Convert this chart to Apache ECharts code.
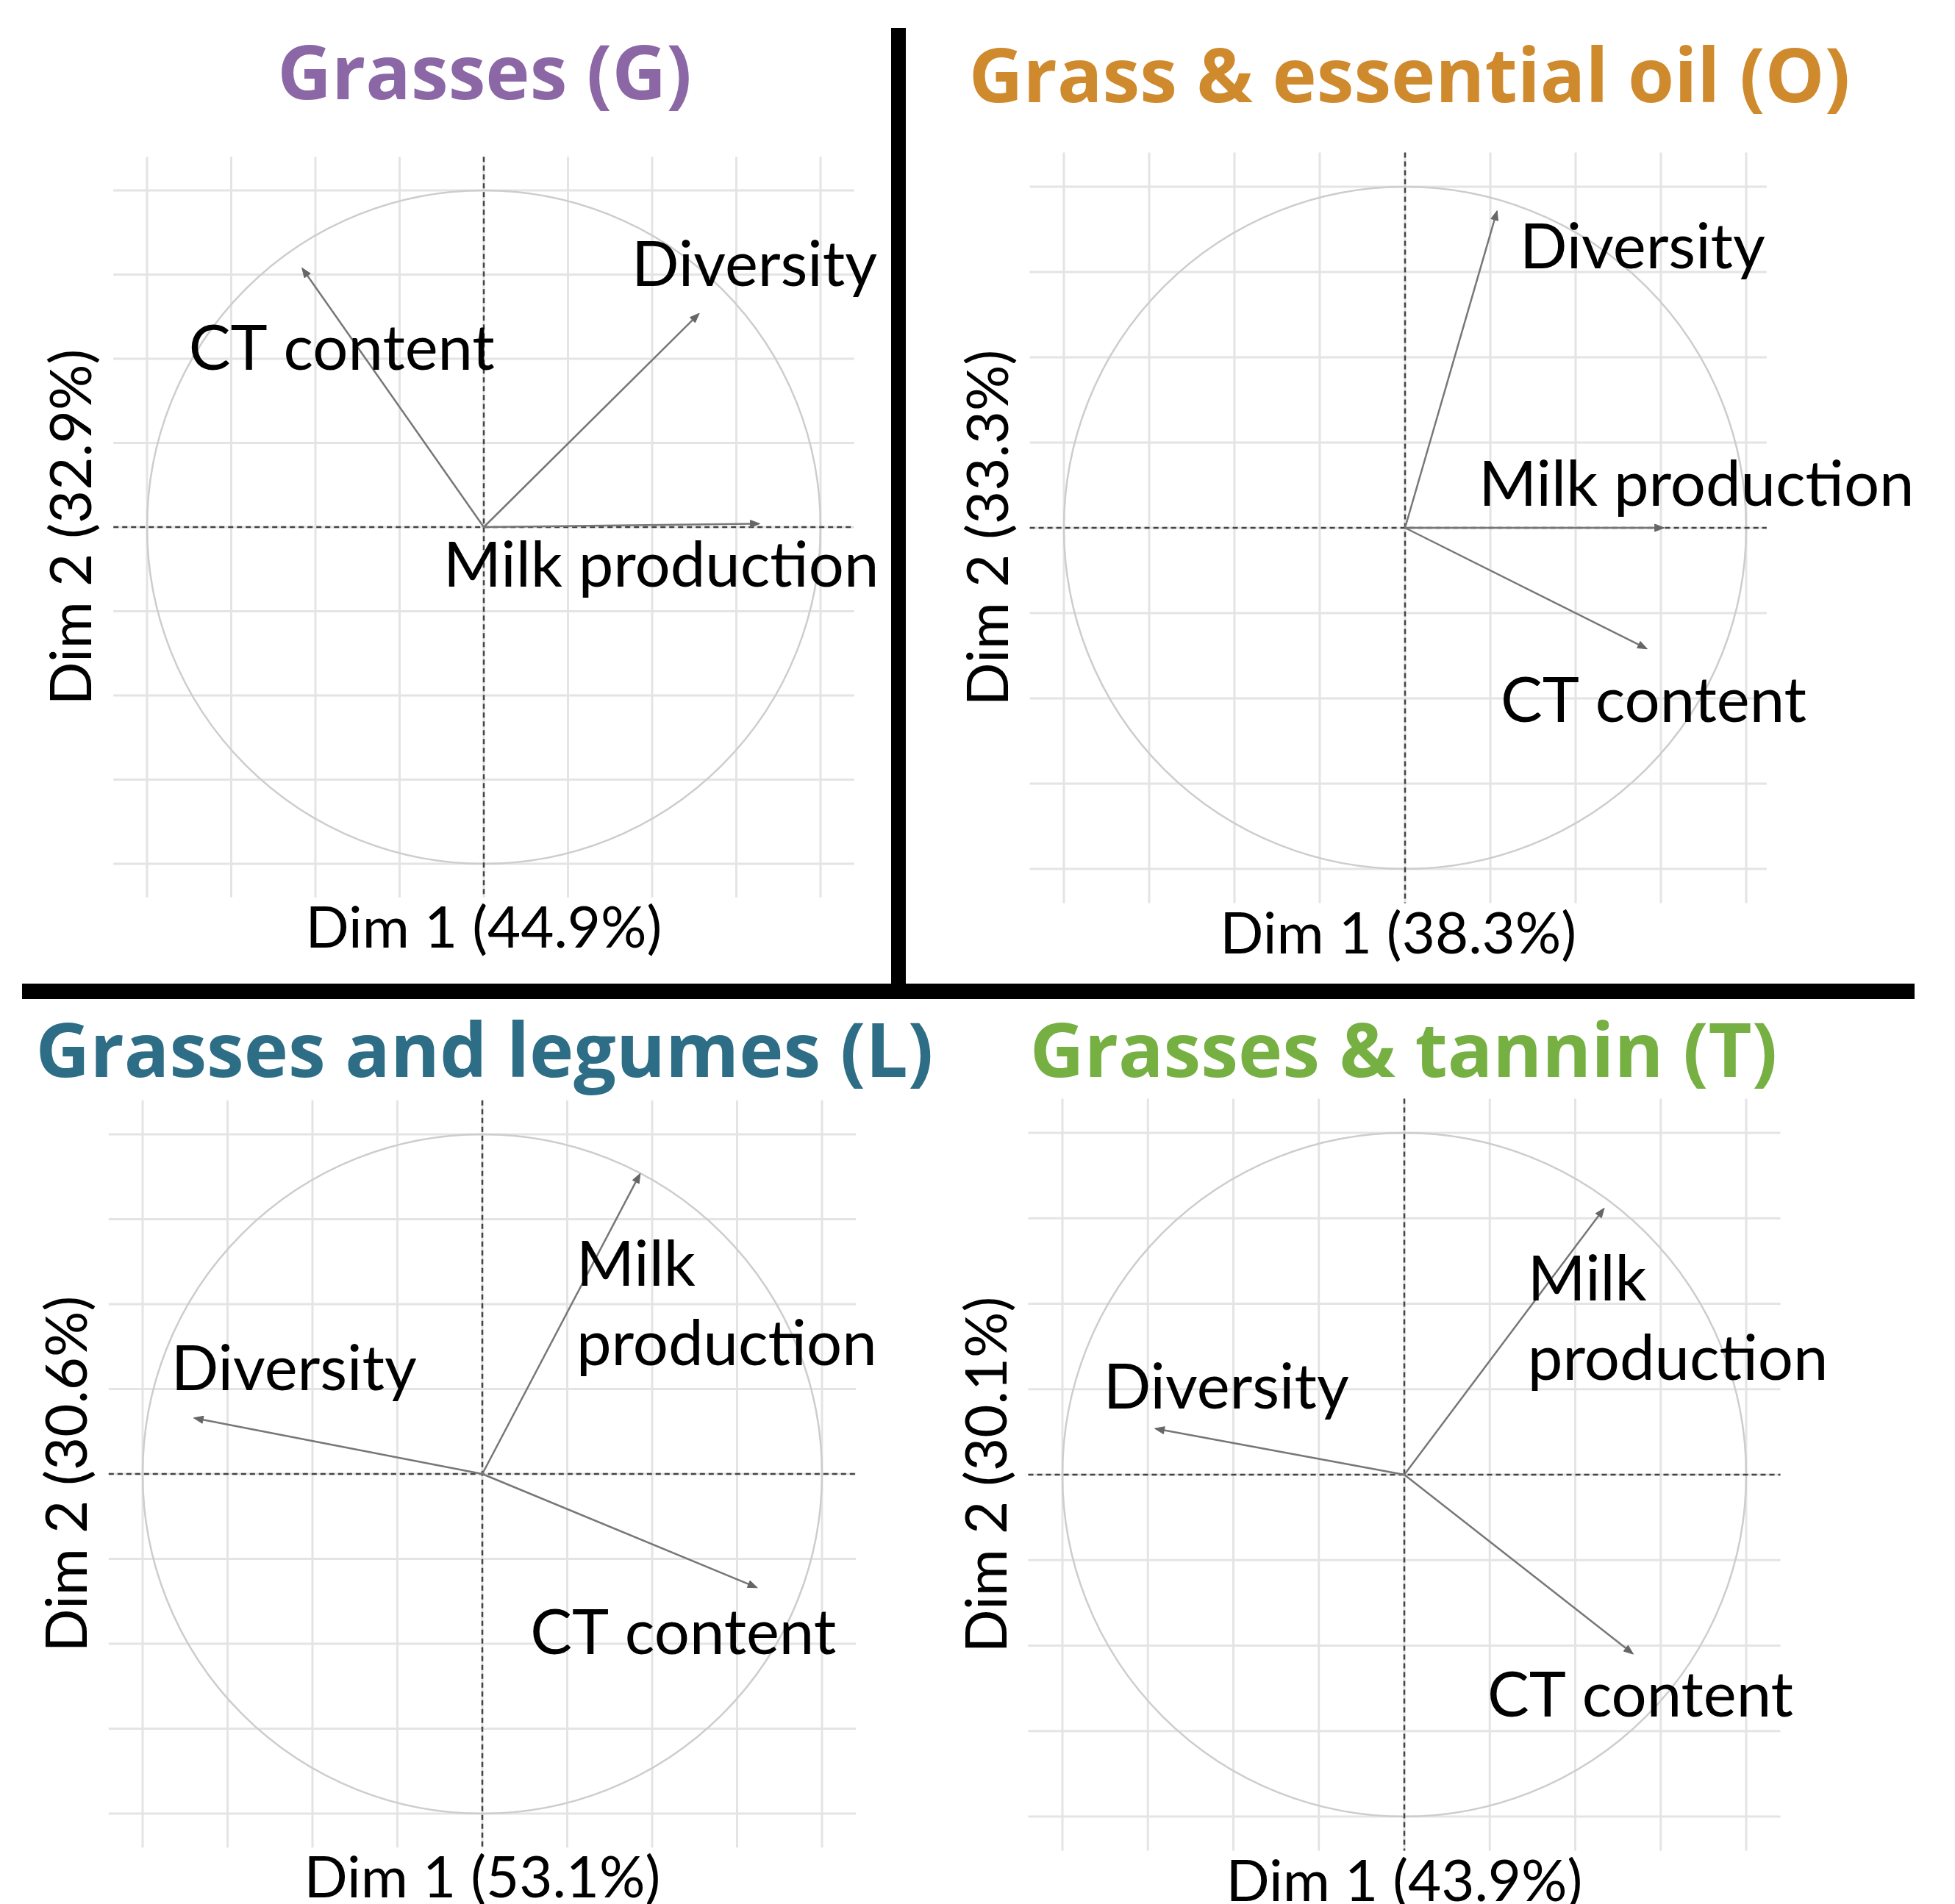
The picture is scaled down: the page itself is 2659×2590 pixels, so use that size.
<!DOCTYPE html>
<html lang="en">
<head>
<meta charset="UTF-8">
<title>PCA variable plots</title>
<script src="https://cdn.jsdelivr.net/npm/echarts@6/dist/echarts.min.js"></script>
<style>
    html, body { margin: 0; padding: 0; background: #fff; }
    #main { width: 2659px; height: 2590px; }
</style>
</head>
<body>
<div id="main"></div>
<script>
    // grid lines of the correlation circle
    var gridTicks = [-1, -0.75, -0.5, -0.25, 0, 0.25, 0.5, 0.75, 1];

    var panelTitles = ['Grasses (G)', 'Grass & essential oil (O)', 'Grasses and legumes (L)', 'Grasses & tannin (T)'];
    var dim1Names = ['Dim 1 (44.9%)', 'Dim 1 (38.3%)', 'Dim 1 (53.1%)', 'Dim 1 (43.9%)'];
    var dim2Names = ['Dim 2 (32.9%)', 'Dim 2 (33.3%)', 'Dim 2 (30.6%)', 'Dim 2 (30.1%)'];

    // variables: CT content, Diversity, Milk production
    var varNames = ['CT content', 'Diversity', 'Milk production'];
    var gDim1 = [-0.54, 0.64, 0.82];
    var gDim2 = [0.77, 0.635, 0.01];
    var oDim1 = [0.71, 0.27, 0.76];
    var oDim2 = [-0.355, 0.93, 0.0];
    var lDim1 = [0.81, -0.85, 0.465];
    var lDim2 = [-0.335, 0.165, 0.885];
    var tDim1 = [0.67, -0.73, 0.585];
    var tDim2 = [-0.525, 0.135, 0.78];

    var dim1 = [gDim1, oDim1, lDim1, tDim1];
    var dim2 = [gDim2, oDim2, lDim2, tDim2];

    // where the variable names sit (left edge, middle), in axis units
    var labelAt = [
        [[-0.876, 0.526], [0.439, 0.775], [-0.120, -0.118]],
        [[0.280, -0.509], [0.336, 0.819], [0.216, 0.123]],
        [[0.141, -0.472], [-0.916, 0.305], [0.277, 0.496]],
        [[0.243, -0.649], [-0.880, 0.252], [0.361, 0.452]]
    ];
    var splitMilk = [false, false, true, true];

    // layout of the four panels (pixels)
    var panels = [
        {cx: 658,  cy: 717,  r: 458, xMax: 1.1,  tx: 659,  ty: 55,   color: '#8C67A5'},
        {cx: 1911, cy: 718,  r: 464, xMax: 1.06, tx: 1917, ty: 59,   color: '#CF8A2E'},
        {cx: 656,  cy: 2005, r: 462, xMax: 1.1,  tx: 659,  ty: 1385, color: '#2E6D86'},
        {cx: 1910, cy: 2006, r: 465, xMax: 1.1,  tx: 1909, ty: 1385, color: '#76B043'}
    ];

    var textFont = 'Lato';

    function renderGridLine(params, api) {
        var cs = params.coordSys;
        var v = api.value(0);
        var px = api.coord([v, 0])[0];
        var py = api.coord([0, v])[1];
        var st = {stroke: '#e4e4e4', lineWidth: 3};
        return {
            type: 'group',
            children: [
                {type: 'line', shape: {x1: px, y1: cs.y, x2: px, y2: cs.y + cs.height}, style: st},
                {type: 'line', shape: {x1: cs.x, y1: py, x2: cs.x + cs.width, y2: py}, style: st}
            ]
        };
    }

    function renderCircle(params, api) {
        var c = api.coord([api.value(0), api.value(1)]);
        var r = api.size([1, 1])[0];
        return {
            type: 'circle',
            shape: {cx: c[0], cy: c[1], r: r},
            style: {fill: 'none', stroke: '#cdcdcd', lineWidth: 2.5}
        };
    }

    function renderZeroLines(params, api) {
        var cs = params.coordSys;
        var c = api.coord([0, 0]);
        var st = {stroke: '#444', lineWidth: 2.5, lineDash: [7, 5]};
        return {
            type: 'group',
            children: [
                {type: 'line', shape: {x1: c[0], y1: cs.y, x2: c[0], y2: cs.y + cs.height}, style: st},
                {type: 'line', shape: {x1: cs.x, y1: c[1], x2: cs.x + cs.width, y2: c[1]}, style: st}
            ]
        };
    }

    function makeArrowRenderer(p) {
        return function (params, api) {
            var k = api.value(2);
            var o = api.coord([0, 0]);
            var t = api.coord([api.value(0), api.value(1)]);
            var a = Math.atan2(t[1] - o[1], t[0] - o[0]);
            var len = 13, w = 5;
            var bx = t[0] - len * Math.cos(a), by = t[1] - len * Math.sin(a);
            var nx = -Math.sin(a) * w, ny = Math.cos(a) * w;
            var pos = api.coord(labelAt[p][k]);
            var txt = varNames[k];
            if (k === 2 && splitMilk[p]) txt = 'Milk\nproduction';
            return {
                type: 'group',
                children: [
                    {type: 'line', shape: {x1: o[0], y1: o[1], x2: bx, y2: by},
                        style: {stroke: '#777', lineWidth: 2.5}},
                    {type: 'polygon', shape: {points: [[t[0], t[1]], [bx + nx, by + ny], [bx - nx, by - ny]]},
                        style: {fill: '#666', stroke: '#666', lineWidth: 1}},
                    {type: 'text', x: pos[0], y: pos[1],
                        style: {text: txt, fill: '#000', fontFamily: textFont, fontSize: 85,
                            lineHeight: 108, align: 'left', verticalAlign: 'middle'}}
                ]
            };
        };
    }

    var grids = [], xAxes = [], yAxes = [], titles = [], series = [];
    panels.forEach(function (p, i) {
        grids.push({
            left: p.cx - 1.1 * p.r,
            top: p.cy - 1.1 * p.r,
            width: (1.1 + p.xMax) * p.r,
            height: 2.2 * p.r,
            containLabel: false,
            outerBoundsMode: 'none'
        });
        xAxes.push({
            gridIndex: i, type: 'value', min: -1.1, max: p.xMax,
            axisLine: {show: false}, axisTick: {show: false}, axisLabel: {show: false}, splitLine: {show: false},
            name: dim1Names[i], nameLocation: 'middle', nameGap: 4,
            nameTextStyle: {fontFamily: textFont, fontSize: 78, color: '#000'}
        });
        yAxes.push({
            gridIndex: i, type: 'value', min: -1.1, max: 1.1,
            axisLine: {show: false}, axisTick: {show: false}, axisLabel: {show: false}, splitLine: {show: false},
            name: dim2Names[i], nameLocation: 'middle', nameGap: 16,
            nameTextStyle: {fontFamily: textFont, fontSize: 78, color: '#000'}
        });
        titles.push({
            text: panelTitles[i], left: p.tx, top: p.ty, textAlign: 'center', padding: 0,
            textStyle: {fontFamily: 'Open Sans', fontWeight: 'bold', fontSize: 102, color: p.color}
        });
        series.push({
            type: 'custom', xAxisIndex: i, yAxisIndex: i, silent: true, z: 1,
            renderItem: renderGridLine,
            data: gridTicks.map(function (v) { return [v, v]; })
        });
        series.push({
            type: 'custom', xAxisIndex: i, yAxisIndex: i, silent: true, z: 2,
            renderItem: renderCircle, data: [[0, 0]]
        });
        series.push({
            type: 'custom', xAxisIndex: i, yAxisIndex: i, silent: true, z: 3,
            renderItem: renderZeroLines, data: [[0, 0]]
        });
        series.push({
            type: 'custom', xAxisIndex: i, yAxisIndex: i, silent: true, z: 4,
            renderItem: makeArrowRenderer(i),
            data: dim1[i].map(function (v, k) { return [v, dim2[i][k], k]; })
        });
    });

    var myChart = echarts.init(document.getElementById('main'));
    myChart.setOption({
        animation: false,
        backgroundColor: '#fff',
        title: titles,
        grid: grids,
        xAxis: xAxes,
        yAxis: yAxes,
        series: series,
        graphic: [
            {type: 'rect', shape: {x: 1212, y: 38, width: 20, height: 1310}, style: {fill: '#000'}},
            {type: 'rect', shape: {x: 30, y: 1338, width: 2574, height: 21}, style: {fill: '#000'}}
        ]
    });
</script>
</body>
</html>
